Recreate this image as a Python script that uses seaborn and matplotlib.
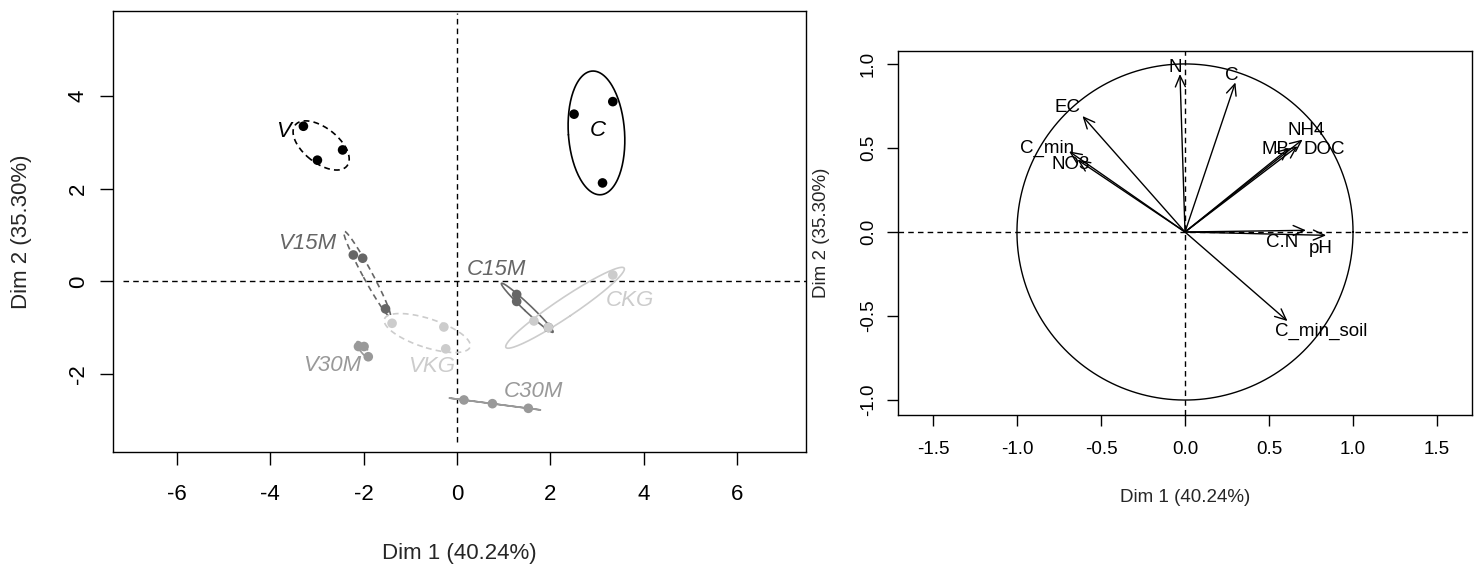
import numpy as np
import pandas as pd
import matplotlib
matplotlib.use("Agg")
import matplotlib.pyplot as plt
from matplotlib.patches import FancyArrowPatch
import seaborn as sns

# ---------------- data ----------------
groups = ["C", "C15M", "C30M", "CKG", "V", "V15M", "V30M", "VKG"]
dim1 = {
    "C":    [2.51, 3.34, 3.12],
    "C15M": [1.28, 1.28, 1.96],
    "C30M": [0.15, 0.76, 1.53],
    "CKG":  [3.34, 1.65, 1.96],
    "V":    [-3.29, -2.45, -2.99],
    "V15M": [-2.22, -2.02, -1.53],
    "V30M": [-2.11, -1.99, -1.90],
    "VKG":  [-1.39, -0.28, -0.24],
}
dim2 = {
    "C":    [3.60, 3.87, 2.12],
    "C15M": [-0.28, -0.43, -0.99],
    "C30M": [-2.55, -2.63, -2.73],
    "CKG":  [0.14, -0.85, -0.99],
    "V":    [3.34, 2.83, 2.61],
    "V15M": [0.57, 0.50, -0.59],
    "V30M": [-1.40, -1.40, -1.62],
    "VKG":  [-0.90, -0.98, -1.45],
}
# group label anchor positions (as read)
label_x = {"C": 3.01, "C15M": 0.85, "C30M": 1.64, "CKG": 3.71,
           "V": -3.72, "V15M": -3.22, "V30M": -2.68, "VKG": -0.54}
label_y = {"C": 3.24, "C15M": 0.25, "C30M": -2.37, "CKG": -0.40,
           "V": 3.22, "V15M": 0.82, "V30M": -1.80, "VKG": -1.83}

variables = ["N", "C", "EC", "C_min", "NO3", "NH4", "MB", "DOC", "C.N", "pH", "C_min_soil"]
var_d1 = [-0.03, 0.30, -0.61, -0.69, -0.64, 0.70, 0.62, 0.67, 0.72, 0.84, 0.61]
var_d2 = [0.94, 0.89, 0.69, 0.48, 0.43, 0.55, 0.50, 0.51, 0.01, -0.02, -0.53]
var_lab_x = [-0.06, 0.28, -0.70, -0.82, -0.68, 0.72, 0.54, 0.83, 0.58, 0.81, 0.81]
var_lab_y = [0.98, 0.93, 0.74, 0.50, 0.40, 0.605, 0.49, 0.49, -0.06, -0.10, -0.59]

dim1_label = "Dim 1 (40.24%)"
dim2_label = "Dim 2 (35.30%)"
left_xticks = [-6, -4, -2, 0, 2, 4, 6]
left_yticks = [-2, 0, 2, 4]
right_ticks_x = [-1.5, -1.0, -0.5, 0.0, 0.5, 1.0, 1.5]
right_ticks_y = [-1.0, -0.5, 0.0, 0.5, 1.0]

# ---------------- styling ----------------
sns.set_theme(style="ticks")
plt.rcParams["font.family"] = ["Liberation Sans", "DejaVu Sans"]
plt.rcParams["axes.unicode_minus"] = False

colors = {"C": "#000000", "V": "#000000",
          "C15M": "#666666", "V15M": "#666666",
          "C30M": "#999999", "V30M": "#999999",
          "CKG": "#cccccc", "VKG": "#cccccc"}
linestyles = {g: ("-" if g.startswith("C") else (0, (3.5, 2.5))) for g in groups}

rows = []
for g in groups:
    for a, b in zip(dim1[g], dim2[g]):
        rows.append({"group": g, "Dim1": a, "Dim2": b})
df = pd.DataFrame(rows)

W, H = 1480, 567
fig = plt.figure(figsize=(W / 100, H / 100), dpi=100)

def px_axes(l, t, r, b):
    return fig.add_axes([l / W, 1 - b / H, (r - l) / W, (b - t) / H])

axL = px_axes(113, 11, 806, 452)
axR = px_axes(898, 51, 1472, 415)

LFS = 16
RFS = 13.5

# ---------------- left panel: individuals ----------------
axL.axhline(0, xmin=0.015, xmax=1.0, color="black", lw=1.0, ls=(0, (4, 3)), zorder=1)
axL.axvline(0, ymin=0.023, ymax=0.995, color="black", lw=1.0, ls=(0, (4, 3)), zorder=1)

k = np.sqrt(-2 * np.log(0.05))
t = np.linspace(0, 2 * np.pi, 200)
for g in groups:
    sub = df[df.group == g]
    sns.scatterplot(data=sub, x="Dim1", y="Dim2", color=colors[g], s=48,
                    edgecolor="none", ax=axL, legend=False, zorder=3)
    pts = sub[["Dim1", "Dim2"]].to_numpy()
    mu = pts.mean(axis=0)
    cov = np.cov(pts.T) / len(pts)
    vals, vecs = np.linalg.eigh(cov)
    vals = np.clip(vals, 0, None)
    circ = np.vstack([np.cos(t), np.sin(t)])
    ell = (vecs @ np.diag(np.sqrt(vals)) @ circ) * k + mu[:, None]
    axL.plot(ell[0], ell[1], color=colors[g], lw=1.2, ls=linestyles[g], zorder=2)
    axL.text(label_x[g], label_y[g], g, color=colors[g], fontsize=LFS,
             fontstyle="italic", ha="center", va="center", zorder=4)

axL.set_xlim(-7.37, 7.48)
axL.set_ylim(-3.67, 5.82)
axL.set_xticks(left_xticks)
axL.set_xticklabels([str(v) for v in left_xticks])
axL.set_yticks(left_yticks)
axL.set_yticklabels([str(v) for v in left_yticks], rotation=90, va="center")
axL.tick_params(axis="both", labelsize=LFS, length=9.4, width=1.0, color="black",
                labelcolor="black", direction="out")
axL.tick_params(axis="x", pad=14)
axL.tick_params(axis="y", pad=8)
axL.set_xlabel(dim1_label, fontsize=LFS)
axL.set_ylabel(dim2_label, fontsize=LFS)
axL.xaxis.label.set_va("center")
axL.yaxis.label.set_va("center")
axL.xaxis.set_label_coords(0.5, (452 - 553) / 441)
axL.yaxis.set_label_coords((22 - 113) / 693, 0.5)

# ---------------- right panel: variables ----------------
axR.axhline(0, color="black", lw=1.0, ls=(0, (4, 3)), zorder=1)
axR.axvline(0, color="black", lw=1.0, ls=(0, (4, 3)), zorder=1)
circle = pd.DataFrame({"x": np.cos(t), "y": np.sin(t)})
axR.plot(circle["x"], circle["y"], color="black", lw=1.0)

for name, a, b, lx, ly in zip(variables, var_d1, var_d2, var_lab_x, var_lab_y):
    arr = FancyArrowPatch((0, 0), (a, b), arrowstyle="->,head_length=0.4,head_width=0.18",
                          mutation_scale=20, color="black", lw=1.0, shrinkA=0, shrinkB=0)
    axR.add_patch(arr)
    axR.text(lx, ly, name, fontsize=RFS, ha="center", va="center", color="black")

axR.set_xlim(-1.708, 1.708)
axR.set_ylim(-1.089, 1.077)
axR.set_xticks(right_ticks_x)
axR.set_xticklabels([f"{v:.1f}" for v in right_ticks_x])
axR.set_yticks(right_ticks_y)
axR.set_yticklabels([f"{v:.1f}" for v in right_ticks_y], rotation=90, va="center")
axR.tick_params(axis="both", labelsize=RFS, length=7.7, width=1.0, color="black",
                labelcolor="black", direction="out")
axR.tick_params(axis="x", pad=11)
axR.tick_params(axis="y", pad=7.5)
axR.set_xlabel(dim1_label, fontsize=RFS)
axR.set_ylabel(dim2_label, fontsize=RFS)
axR.xaxis.label.set_va("center")
axR.yaxis.label.set_va("center")
axR.xaxis.set_label_coords(0.5, (415 - 497) / 364)
axR.yaxis.set_label_coords((822 - 898) / 574, 0.5)

for ax in (axL, axR):
    for sp in ax.spines.values():
        sp.set_visible(True)
        sp.set_color("black")
        sp.set_linewidth(1.0)
    ax.set_facecolor("white")

fig.savefig("out.png", dpi=100, facecolor="white")
